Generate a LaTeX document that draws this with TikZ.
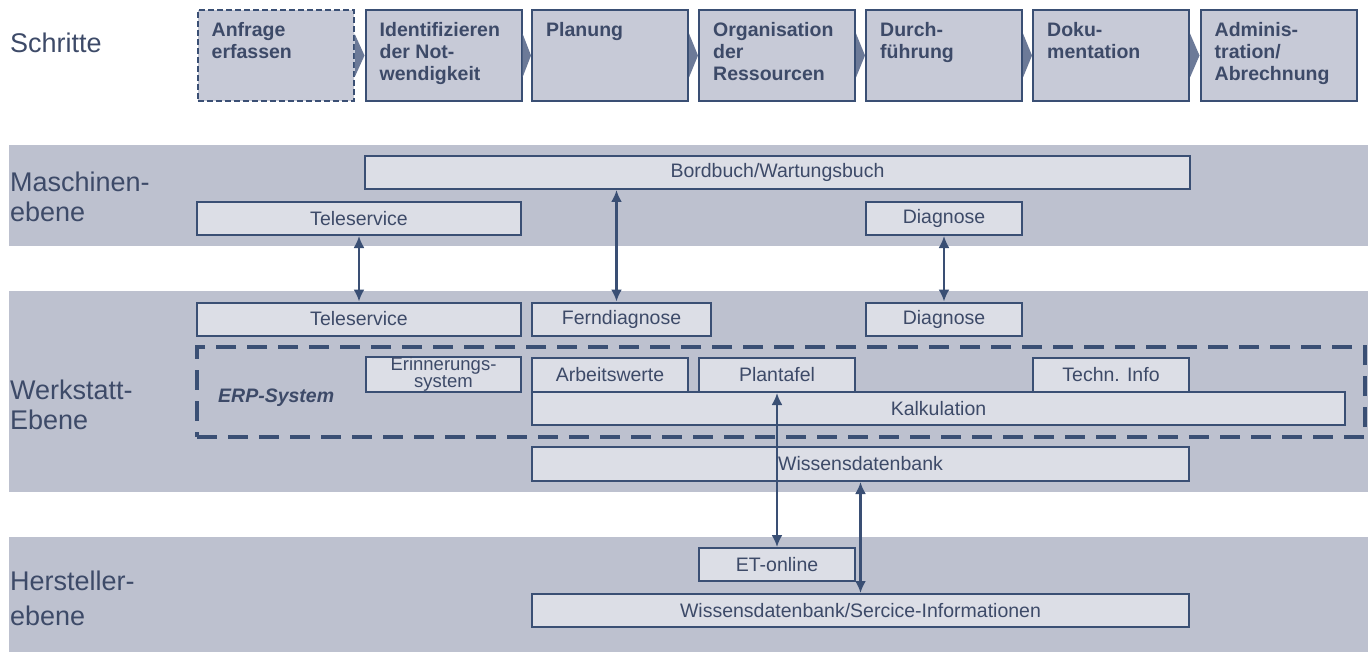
\documentclass[tikz,border=0pt]{standalone}
\usepackage{fontspec}
\setmainfont{Liberation Sans}
\usetikzlibrary{arrows.meta}

\definecolor{bandgray}{HTML}{BDC1CF}
\definecolor{boxfill}{HTML}{DCDEE6}
\definecolor{stepfill}{HTML}{C7CAD7}
\definecolor{linecol}{HTML}{3A4F74}
\definecolor{txtcol}{HTML}{3D4A68}
\definecolor{chevcol}{HTML}{6C7A98}

\tikzset{
  level/.style={anchor=west, align=left, inner sep=0, text=txtcol},
  stepbox/.style={draw=linecol, line width=2, fill=stepfill, minimum width=156, minimum height=91, inner sep=0},
  steptext/.style={anchor=north west, align=left, inner sep=0, text=txtcol, font=\bfseries\fontsize{19.5}{22}\selectfont},
  box/.style={draw=linecol, line width=2, fill=boxfill, inner sep=0, align=center, minimum height=33, text=txtcol, font=\fontsize{19.5}{22}\selectfont},
  erpframe/.style={draw=linecol, line width=4.5, dash pattern=on 20 off 11, minimum width=1168, minimum height=90, inner sep=0},
  link/.style={draw=linecol, line width=2.2, {Latex[length=12,width=11]}-{Latex[length=12,width=11]}},
}

\begin{document}
\begin{tikzpicture}[x=1pt,y=-1pt]
\useasboundingbox (0,0) rectangle (1368,655);

% bands
\fill[bandgray] (9,145) rectangle (1368,246);
\fill[bandgray] (9,291) rectangle (1368,492);
\fill[bandgray] (9,537) rectangle (1368,652);

% level names
\node[level, font=\fontsize{27}{30}\selectfont] (lsteps) at (10,43) {Schritte};
\node[level, font=\fontsize{27}{30}\selectfont] (lmasch) at (10,197) {Maschinen-\\ebene};
\node[level, font=\fontsize{27}{30}\selectfont] (lwerk) at (10,405) {Werkstatt-\\Ebene};
\node[level, font=\fontsize{27}{35}\selectfont] (lherst) at (10,598) {Hersteller-\\ebene};

% steps
\node[stepbox, dash pattern=on 6 off 3] (s1) at (275.5,55.5) {};
\node[stepbox] (s2) at (443.5,55.5) {};
\node[stepbox] (s3) at (610,55.5) {};
\node[stepbox] (s4) at (777,55.5) {};
\node[stepbox] (s5) at (944,55.5) {};
\node[stepbox] (s6) at (1111,55.5) {};
\node[stepbox] (s7) at (1278.5,55.5) {};

\node[steptext] (s1t) at ([shift={(15,13)}]s1.north west) {Anfrage\\erfassen};
\node[steptext] (s2t) at ([shift={(15,13)}]s2.north west) {Identifizieren\\der Not-\\wendigkeit};
\node[steptext] (s3t) at ([shift={(15,13)}]s3.north west) {Planung};
\node[steptext] (s4t) at ([shift={(15,13)}]s4.north west) {Organisation\\der\\Ressourcen};
\node[steptext] (s5t) at ([shift={(15,13)}]s5.north west) {Durch-\\führung};
\node[steptext] (s6t) at ([shift={(15,13)}]s6.north west) {Doku-\\mentation};
\node[steptext] (s7t) at ([shift={(15,13)}]s7.north west) {Adminis-\\tration/\\Abrechnung};

\fill[chevcol] ([yshift=22]s1.east) -- (s2.west) -- ([yshift=-22]s1.east) -- cycle;
\fill[chevcol] ([yshift=22]s2.east) -- (s3.west) -- ([yshift=-22]s2.east) -- cycle;
\fill[chevcol] ([yshift=22]s3.east) -- (s4.west) -- ([yshift=-22]s3.east) -- cycle;
\fill[chevcol] ([yshift=22]s4.east) -- (s5.west) -- ([yshift=-22]s4.east) -- cycle;
\fill[chevcol] ([yshift=22]s5.east) -- (s6.west) -- ([yshift=-22]s5.east) -- cycle;
\fill[chevcol] ([yshift=22]s6.east) -- (s7.west) -- ([yshift=-22]s6.east) -- cycle;

% Maschinenebene
\node[box, minimum width=825] (bord) at (777.5,172.5) {Bordbuch/Wartungsbuch};
\node[box, minimum width=324] (tsM) at (359,218.5) {Teleservice};
\node[box, minimum width=156] (diaM) at (944,218.5) {Diagnose};

% Werkstatt-Ebene
\node[box, minimum width=324] (tsW) at (359,319) {Teleservice};
\node[box, minimum width=179] (fern) at (621.5,319) {Ferndiagnose};
\node[box, minimum width=156] (diaW) at (944,319) {Diagnose};

\node[erpframe] (erp) at (781,392) {};
\node[level, font=\bfseries\itshape\fontsize{19.5}{22}\selectfont] (erpt) at (218,398) {ERP-System};

\node[box, minimum width=155, font=\fontsize{18.5}{15}\selectfont] (erin) at (443.5,374.5) {Erinnerungs-\\system};
\node[box, minimum width=156, minimum height=34] (arb) at (610,375) {Arbeitswerte};
\node[box, minimum width=156, minimum height=34] (plan) at (777,375) {Plantafel};
\node[box, minimum width=156, minimum height=34] (tech) at (1111,375) {Techn. Info};
\node[box, minimum width=813] (kalk) at (938.5,408.5) {Kalkulation};
\node[box, minimum width=657, minimum height=34] (wdb) at (860.5,464) {Wissensdatenbank};

% Herstellerebene
\node[box, minimum width=156] (et) at (777,564.5) {ET-online};
\node[box, minimum width=657] (wdbs) at (860.5,610.5) {Wissensdatenbank/Sercice-Informationen};

% links
\draw[link] (tsM) -- (tsW);
\draw[link] ([xshift=-5]fern.north |- bord.south) -- ([xshift=-5]fern.north);
\draw[link] (diaM) -- (diaW);
\draw[link] (plan.south) -- (et.north);
\draw[link] (wdb.south) -- (wdbs.north);
\end{tikzpicture}
\end{document}
